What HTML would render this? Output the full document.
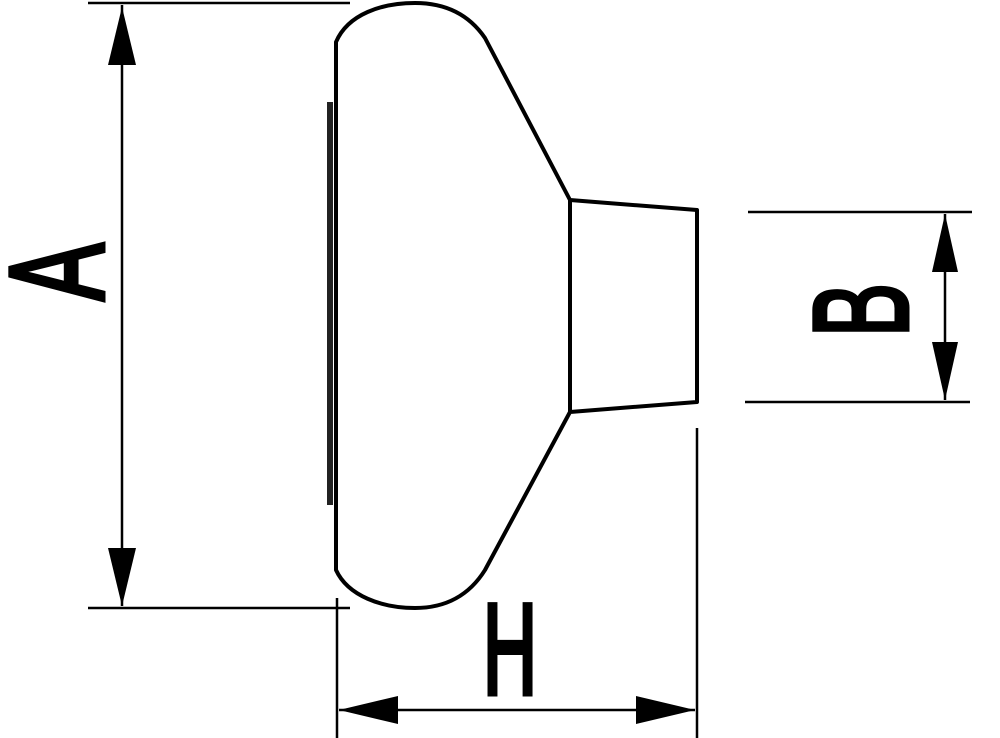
<!DOCTYPE html>
<html><head><style>html,body{margin:0;padding:0;background:#fff}svg{display:block}</style></head>
<body>
<svg width="1000" height="738" viewBox="0 0 1000 738" xmlns="http://www.w3.org/2000/svg">
<g fill="none" stroke="#000" stroke-width="4" stroke-linejoin="round">
<path d="M336,42 C348,14 382,3 415,3 C447,3 470,16 485,38 L570,200 L697,210 L697,402 L570,412 L485,570 C470,594 447,608 415,608 C382,608 348,596 336,570 Z"/>
<line x1="570" y1="200" x2="570" y2="412"/>
</g>
<rect x="327" y="102" width="6" height="403" fill="#222"/>
<g stroke="#000" stroke-width="2.5">
<line x1="88" y1="3" x2="350" y2="3"/>
<line x1="88" y1="608" x2="350" y2="608"/>
<line x1="122" y1="5" x2="122" y2="606"/>
<line x1="748" y1="212" x2="972" y2="212"/>
<line x1="745" y1="402" x2="970" y2="402"/>
<line x1="945" y1="214" x2="945" y2="400"/>
<line x1="337" y1="598" x2="337" y2="738"/>
<line x1="697" y1="428" x2="697" y2="738"/>
<line x1="339" y1="710" x2="695" y2="710"/>
</g>
<g fill="#000">
<polygon points="122,7 108,65 136,65"/>
<polygon points="122,606 108,548 136,548"/>
<polygon points="945,214 932,272 958,272"/>
<polygon points="945,400 932,342 958,342"/>
<polygon points="339,710 398,696 398,724"/>
<polygon points="695,710 636,696 636,724"/>
</g>
<g font-family="Liberation Sans, sans-serif" fill="#000" stroke="#000" stroke-width="5">
<text transform="translate(103,272) rotate(-90) scale(0.64,1)" text-anchor="middle" font-size="134">A</text>
<text transform="translate(907,310) rotate(-90) scale(0.6,1)" text-anchor="middle" font-size="134">B</text>
<text transform="translate(510,694) scale(0.58,1)" text-anchor="middle" font-size="130">H</text>
</g>
</svg>
</body></html>
